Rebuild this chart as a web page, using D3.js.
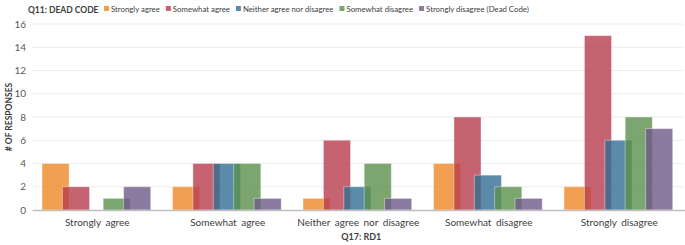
<!DOCTYPE html>
<html>
<head>
<meta charset="utf-8">
<script src="https://cdn.jsdelivr.net/npm/d3@7"></script>
<style>
  body { margin: 0; background: #fff; }
  text { font-family: Lato, "Open Sans", sans-serif; }
</style>
</head>
<body>
<div id="chart"></div>
<script>
// categories on the x axis (Q17: RD1)
let categories = ["Strongly agree", "Somewhat agree", "Neither agree nor disagree", "Somewhat disagree", "Strongly disagree"];
// series (Q11: DEAD CODE answers)
let seriesNames = ["Strongly agree", "Somewhat agree", "Neither agree nor disagree", "Somewhat disagree", "Strongly disagree (Dead Code)"];
let seriesColors = ["#ec8824", "#b63d4c", "#326e92", "#5a904c", "#6f5a88"];
// counts per category, one value per series
let stronglyAgree    = [4, 2, 0, 1, 2];
let somewhatAgree    = [2, 4, 4, 4, 1];
let neither          = [1, 6, 2, 4, 1];
let somewhatDisagree = [4, 8, 3, 2, 1];
let stronglyDisagree = [2, 15, 6, 8, 7];
let yTicks = [0, 2, 4, 6, 8, 10, 12, 14, 16];

let rows = [stronglyAgree, somewhatAgree, neither, somewhatDisagree, stronglyDisagree];
let data = [];
categories.forEach((c, i) => {
    rows[i].forEach((v, j) => {
        data.push({ category: c, series: seriesNames[j], idx: j, value: v });
    });
});

let width = 685, height = 245;
let plot = { left: 32, right: 684.5, top: 24, bottom: 210 };

let svg = d3.select("#chart").append("svg")
    .attr("width", width)
    .attr("height", height);

let x0 = d3.scaleBand()
    .domain(categories)
    .range([plot.left, plot.right]);
let x1 = d3.scaleBand()
    .domain(seriesNames)
    .range([10, 10 + 5 * 20.4]);
let barWidth = x1.bandwidth() * 1.33;
let y = d3.scaleLinear()
    .domain([0, 16])
    .range([plot.bottom, plot.top]);

// gridlines
svg.append("g")
    .selectAll("line")
    .data(yTicks.slice(1))
    .enter()
    .append("line")
    .attr("x1", plot.left)
    .attr("x2", plot.right - 1)
    .attr("y1", d => y(d))
    .attr("y2", d => y(d))
    .style("stroke", "#ececec")
    .style("stroke-width", 1);

// y tick labels
let axisY = d3.axisLeft(y).tickValues(yTicks).tickSize(0).tickPadding(6);
let gy = svg.append("g")
    .attr("transform", "translate(" + [plot.left, 0] + ")")
    .call(axisY);
gy.select(".domain").remove();
gy.selectAll("text")
    .style("font-size", "10px")
    .style("fill", "#595959");

// bars
svg.append("g")
    .selectAll("rect")
    .data(data)
    .enter()
    .append("rect")
    .attr("x", d => x0(d.category) + x1(d.series))
    .attr("y", d => y(d.value))
    .attr("width", barWidth)
    .attr("height", d => y(0) - y(d.value))
    .style("fill", d => seriesColors[d.idx])
    .style("fill-opacity", 0.8)
    .style("stroke", "#ffffff")
    .style("stroke-opacity", 0.4)
    .style("stroke-width", 1);

// x axis
let axisX = d3.axisBottom(x0).tickSize(0).tickPadding(9);
let gx = svg.append("g")
    .attr("transform", "translate(0," + plot.bottom + ")")
    .call(axisX);
gx.select(".domain")
    .style("stroke", "#bfbfbf")
    .style("stroke-width", 1.5);
gx.selectAll("text")
    .style("font-size", "10px")
    .style("fill", "#404040")
    .style("word-spacing", "2px");

// axis titles
svg.append("text")
    .attr("transform", "translate(12," + ((plot.top + plot.bottom) / 2) + ") rotate(-90)")
    .attr("text-anchor", "middle")
    .style("font-size", "8.5px")
    .style("font-weight", "bold")
    .style("fill", "#404040")
    .text("# OF RESPONSES");

svg.append("text")
    .attr("x", (plot.left + plot.right) / 2 + 3)
    .attr("y", 240)
    .attr("text-anchor", "middle")
    .style("font-size", "9px")
    .style("font-weight", "bold")
    .style("fill", "#404040")
    .text("Q17: RD1");

// title
svg.append("text")
    .attr("x", 28)
    .attr("y", 13)
    .style("font-size", "8.5px")
    .style("font-weight", "bold")
    .style("fill", "#404040")
    .text("Q11: DEAD CODE");

// legend, laid out left to right
let legend = svg.append("g");
let lx = 104;
seriesNames.forEach((s, i) => {
    legend.append("rect")
        .attr("x", lx)
        .attr("y", 6)
        .attr("width", 5)
        .attr("height", 5)
        .style("fill", seriesColors[i])
        .style("fill-opacity", 0.8);
    let t = legend.append("text")
        .attr("x", lx + 7)
        .attr("y", 12)
        .style("font-size", "7.8px")
        .style("fill", "#404040")
        .text(s);
    lx += 7 + t.node().getComputedTextLength() + 6;
});
</script>
</body>
</html>
